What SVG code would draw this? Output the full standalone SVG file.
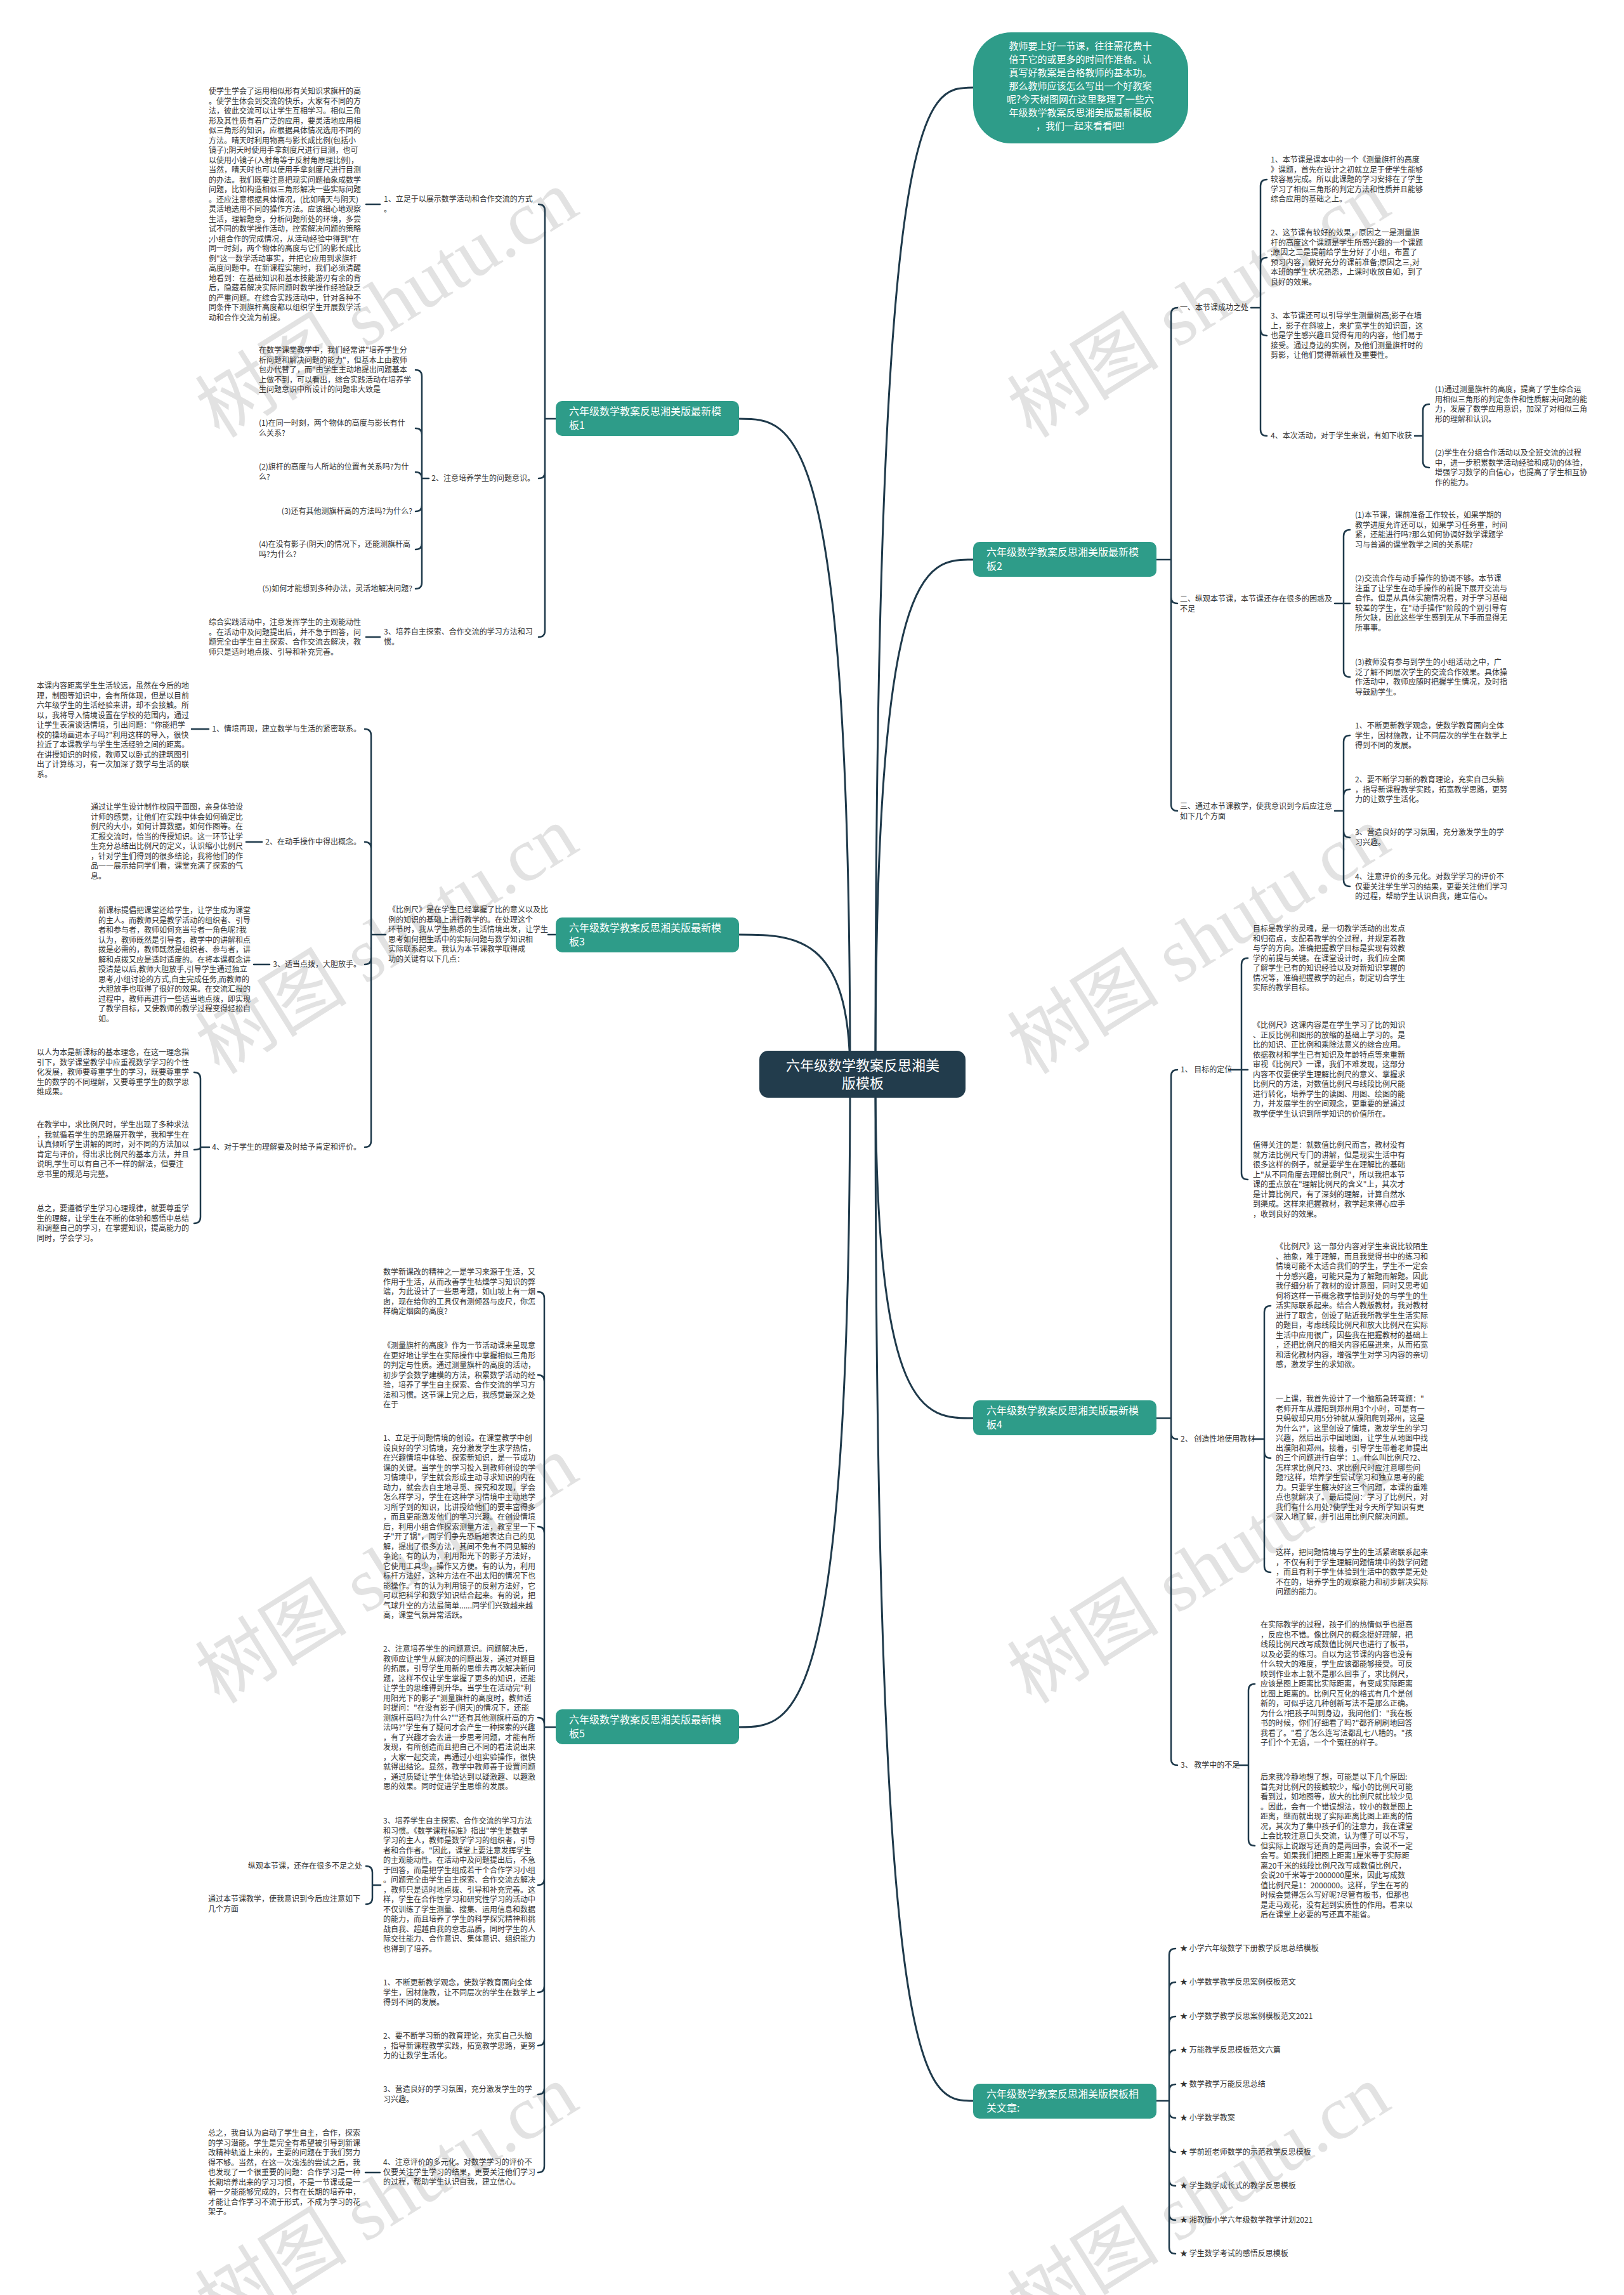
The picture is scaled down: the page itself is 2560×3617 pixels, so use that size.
<svg xmlns="http://www.w3.org/2000/svg" width="2560" height="3617" viewBox="0 0 2560 3617">
<style>
.t{font-family:"Noto Sans CJK SC","Noto Sans",sans-serif;font-size:12px;fill:#333}
.e{text-anchor:end}
.nt{font-family:"Noto Sans CJK SC",sans-serif;font-size:16px;fill:#fff}
.ct{font-family:"Noto Sans CJK SC",sans-serif;font-size:22px;fill:#fff;text-anchor:middle}
.it{font-family:"Noto Sans CJK SC",sans-serif;font-size:15px;fill:#fff;text-anchor:middle}
.ln{fill:none;stroke:#1f3a4b;stroke-width:2.5;stroke-linecap:round}
.rt{fill:none;stroke:#1f3a4b;stroke-width:3}
.bn{fill:#2e9c89}
.wm{font-family:"Liberation Serif","Noto Sans CJK SC",serif;font-size:120px;fill:#e2e2e2}
</style>
<rect width="2560" height="3617" fill="#fff"/>
<g id="watermarks">
<text class="wm" transform="translate(346,692) rotate(-32)">树图 shutu.cn</text>
<text class="wm" transform="translate(1626,692) rotate(-32)">树图 shutu.cn</text>
<text class="wm" transform="translate(346,1695) rotate(-32)">树图 shutu.cn</text>
<text class="wm" transform="translate(1626,1695) rotate(-32)">树图 shutu.cn</text>
<text class="wm" transform="translate(346,2687) rotate(-32)">树图 shutu.cn</text>
<text class="wm" transform="translate(1626,2687) rotate(-32)">树图 shutu.cn</text>
<text class="wm" transform="translate(346,3678) rotate(-32)">树图 shutu.cn</text>
<text class="wm" transform="translate(1626,3678) rotate(-32)">树图 shutu.cn</text>
</g>
<g id="connectors">
<path class="rt" d="M1380,1693 C1380,138 1457,138 1534,138"/>
<path class="rt" d="M1380,1693 C1380,882 1457,882 1534,882"/>
<path class="rt" d="M1380,1693 C1380,2235 1457,2235 1534,2235"/>
<path class="rt" d="M1380,1693 C1380,3311 1457,3311 1534,3311"/>
<path class="rt" d="M1340,1693 C1340,660 1252,660 1165,660"/>
<path class="rt" d="M1340,1693 C1340,1473 1252,1473 1165,1473"/>
<path class="rt" d="M1340,1693 C1340,2722 1252,2722 1165,2722"/>
<path class="ln" d="M876,660 H859 M859,660 V332 Q859,322 849,322 M859,660 V744 Q859,754 849,754 M859,660 V994 Q859,1004 849,1004"/>
<path class="ln" d="M577,322 H599 M577,1004 H599"/>
<path class="ln" d="M676,754 H665 M665,754 V593 Q665,583 655,583 M665,754 V685 Q665,675 655,675 M665,754 Q665,744 655,744 M665,754 V796 Q665,806 655,806 M665,754 V856 Q665,866 655,866 M665,754 V918 Q665,928 655,928"/>
<path class="ln" d="M876,1473 H864 M608,1473 H585 M585,1473 V1159 Q585,1149 575,1149 M585,1473 V1337 Q585,1327 575,1327 M585,1473 V1510 Q585,1520 575,1520 M585,1473 V1798 Q585,1808 575,1808"/>
<path class="ln" d="M302,1149 H329 M388,1327 H413 M400,1520 H425"/>
<path class="ln" d="M330,1808 H316 M316,1808 V1700 Q316,1690 306,1690 M316,1808 Q316,1812 306,1812 M316,1808 V1918 Q316,1928 306,1928"/>
<path class="ln" d="M876,2722 H858 M858,2722 V2046 Q858,2036 848,2036 M858,2722 V2177 Q858,2167 848,2167 M858,2722 V2416 Q858,2406 848,2406 M858,2722 V2717 Q858,2707 848,2707 M858,2722 V2961 Q858,2971 848,2971 M858,2722 V3130 Q858,3140 848,3140 M858,2722 V3214 Q858,3224 848,3224 M858,2722 V3291 Q858,3301 848,3301 M858,2722 V3414 Q858,3424 848,3424"/>
<path class="ln" d="M600,2971 H587 M587,2971 V2951 Q587,2941 577,2941 M587,2971 V2991 Q587,3001 577,3001 M576,3424 H599"/>
<path class="ln" d="M1822,882 H1846 M1846,882 V495 Q1846,485 1856,485 M1846,882 V941 Q1846,951 1856,951 M1846,882 V1268 Q1846,1278 1856,1278"/>
<path class="ln" d="M1972,485 H1987 M1987,485 V293 Q1987,283 1997,283 M1987,485 V416 Q1987,406 1997,406 M1987,485 V519 Q1987,529 1997,529 M1987,485 V677 Q1987,687 1997,687"/>
<path class="ln" d="M2230,687 H2243 M2243,687 V647 Q2243,637 2253,637 M2243,687 V727 Q2243,737 2253,737"/>
<path class="ln" d="M2104,951 H2118 M2118,951 V845 Q2118,835 2128,835 M2118,951 H2128 M2118,951 V1057 Q2118,1067 2128,1067"/>
<path class="ln" d="M2104,1278 H2118 M2118,1278 V1169 Q2118,1159 2128,1159 M2118,1278 V1254 Q2118,1244 2128,1244 M2118,1278 V1310 Q2118,1320 2128,1320 M2118,1278 V1387 Q2118,1397 2128,1397"/>
<path class="ln" d="M1822,2235 H1846 M1846,2235 V1696 Q1846,1686 1856,1686 M1846,2235 V2258 Q1846,2268 1856,2268 M1846,2235 V2772 Q1846,2782 1856,2782"/>
<path class="ln" d="M1937,1686 H1957 M1957,1686 V1520 Q1957,1510 1967,1510 M1957,1686 H1967 M1957,1686 V1849 Q1957,1859 1967,1859"/>
<path class="ln" d="M1975,2268 H1993 M1993,2268 V2068 Q1993,2058 2003,2058 M1993,2268 V2288 Q1993,2298 2003,2298 M1993,2268 V2468 Q1993,2478 2003,2478"/>
<path class="ln" d="M1948,2782 H1968 M1968,2782 V2664 Q1968,2654 1978,2654 M1968,2782 V2899 Q1968,2909 1978,2909"/>
<path class="ln" d="M1822,3311 H1843 M1843,3311 V3081 Q1843,3071 1853,3071 M1843,3311 V3134 Q1843,3124 1853,3124 M1843,3311 V3188 Q1843,3178 1853,3178 M1843,3311 V3241 Q1843,3231 1853,3231 M1843,3311 V3295 Q1843,3285 1853,3285 M1843,3311 V3328 Q1843,3338 1853,3338 M1843,3311 V3382 Q1843,3392 1853,3392 M1843,3311 V3435 Q1843,3445 1853,3445 M1843,3311 V3489 Q1843,3499 1853,3499 M1843,3311 V3542 Q1843,3552 1853,3552"/>
</g>
<g id="center">
<rect x="1197" y="1656" width="325" height="74" rx="14" fill="#223c4c"/>
<text class="ct" y="1687"><tspan x="1360">六年级数学教案反思湘美</tspan><tspan x="1360" dy="28">版模板</tspan></text>
</g>
<g id="intro">
<rect x="1534" y="51" width="339" height="175" rx="60" class="bn"/>
<text class="it" y="78"><tspan x="1703">教师要上好一节课，往往需花费十</tspan><tspan x="1703" dy="21">倍于它的或更多的时间作准备。认</tspan><tspan x="1703" dy="21">真写好教案是合格教师的基本功。</tspan><tspan x="1703" dy="21">那么教师应该怎么写出一个好教案</tspan><tspan x="1703" dy="21">呢?今天树图网在这里整理了一些六</tspan><tspan x="1703" dy="21">年级数学教案反思湘美版最新模板</tspan><tspan x="1703" dy="21">，我们一起来看看吧!</tspan></text>
</g>
<g id="node-b1">
<rect x="876" y="632" width="289" height="55" rx="10" class="bn"/>
<text class="nt" y="654"><tspan x="897">六年级数学教案反思湘美版最新模</tspan><tspan x="897" dy="22">板1</tspan></text>
</g>
<g id="node-b3">
<rect x="876" y="1446" width="289" height="55" rx="10" class="bn"/>
<text class="nt" y="1468"><tspan x="897">六年级数学教案反思湘美版最新模</tspan><tspan x="897" dy="22">板3</tspan></text>
</g>
<g id="node-b5">
<rect x="876" y="2694" width="289" height="55" rx="10" class="bn"/>
<text class="nt" y="2716"><tspan x="897">六年级数学教案反思湘美版最新模</tspan><tspan x="897" dy="22">板5</tspan></text>
</g>
<g id="node-b2">
<rect x="1534" y="854" width="289" height="55" rx="10" class="bn"/>
<text class="nt" y="876"><tspan x="1555">六年级数学教案反思湘美版最新模</tspan><tspan x="1555" dy="22">板2</tspan></text>
</g>
<g id="node-b4">
<rect x="1534" y="2207" width="289" height="55" rx="10" class="bn"/>
<text class="nt" y="2229"><tspan x="1555">六年级数学教案反思湘美版最新模</tspan><tspan x="1555" dy="22">板4</tspan></text>
</g>
<g id="node-b6">
<rect x="1534" y="3284" width="289" height="55" rx="10" class="bn"/>
<text class="nt" y="3306"><tspan x="1555">六年级数学教案反思湘美版模板相</tspan><tspan x="1555" dy="22">关文章:</tspan></text>
</g>
<g id="b1-texts">
<text class="t" y="148"><tspan x="329">使学生学会了运用相似形有关知识求旗杆的高</tspan><tspan x="329" dy="15.5">。使学生体会到交流的快乐，大家有不同的方</tspan><tspan x="329" dy="15.5">法，彼此交流可以让学生互相学习。相似三角</tspan><tspan x="329" dy="15.5">形及其性质有着广泛的应用，要灵活地应用相</tspan><tspan x="329" dy="15.5">似三角形的知识，应根据具体情况选用不同的</tspan><tspan x="329" dy="15.5">方法。晴天时利用物高与影长成比例(包括小</tspan><tspan x="329" dy="15.5">镜子);阴天时使用手拿刻度尺进行目测，也可</tspan><tspan x="329" dy="15.5">以使用小镜子(入射角等于反射角原理比例)，</tspan><tspan x="329" dy="15.5">当然，晴天时也可以使用手拿刻度尺进行目测</tspan><tspan x="329" dy="15.5">的办法。我们既要注意把现实问题抽象成数学</tspan><tspan x="329" dy="15.5">问题，比如构造相似三角形解决一些实际问题</tspan><tspan x="329" dy="15.5">。还应注意根据具体情况，(比如晴天与阴天)</tspan><tspan x="329" dy="15.5">灵活地选用不同的操作方法。应该细心地观察</tspan><tspan x="329" dy="15.5">生活，理解题意，分析问题所处的环境，多尝</tspan><tspan x="329" dy="15.5">试不同的数学操作活动，控索解决问题的策略</tspan><tspan x="329" dy="15.5">;小组合作的完成情况，从活动经验中得到"在</tspan><tspan x="329" dy="15.5">同一时刻，两个物体的高度与它们的影长成比</tspan><tspan x="329" dy="15.5">例"这一数学活动事实，并把它应用到求旗杆</tspan><tspan x="329" dy="15.5">高度问题中。在新课程实施时，我们必须清醒</tspan><tspan x="329" dy="15.5">地看到：在基础知识和基本技能游刃有余的背</tspan><tspan x="329" dy="15.5">后，隐藏着解决实际问题时数学操作经验缺乏</tspan><tspan x="329" dy="15.5">的严重问题。在综合实践活动中，针对各种不</tspan><tspan x="329" dy="15.5">同条件下测旗杆高度都以组织学生开展数学活</tspan><tspan x="329" dy="15.5">动和合作交流为前提。</tspan></text>
<text class="t" y="318"><tspan x="605">1、立足于以展示数学活动和合作交流的方式</tspan><tspan x="605" dy="15.5">。</tspan></text>
<text class="t e" x="843" y="758">2、注意培养学生的问题意识。</text>
<text class="t" y="556"><tspan x="408">在数学课堂教学中，我们经常讲"培养学生分</tspan><tspan x="408" dy="15.5">析问题和解决问题的能力"，但基本上由教师</tspan><tspan x="408" dy="15.5">包办代替了，而"由学生主动地提出问题基本</tspan><tspan x="408" dy="15.5">上做不到，可以看出，综合实践活动在培养学</tspan><tspan x="408" dy="15.5">生问题意识中所设计的问题串大致是</tspan></text>
<text class="t" y="671"><tspan x="408">(1)在同一时刻，两个物体的高度与影长有什</tspan><tspan x="408" dy="15.5">么关系?</tspan></text>
<text class="t" y="740"><tspan x="408">(2)旗杆的高度与人所站的位置有关系吗?为什</tspan><tspan x="408" dy="15.5">么?</tspan></text>
<text class="t e" x="650" y="810">(3)还有其他测旗杆高的方法吗?为什么?</text>
<text class="t" y="862"><tspan x="408">(4)在没有影子(阴天)的情况下，还能测旗杆高</tspan><tspan x="408" dy="15.5">吗?为什么?</tspan></text>
<text class="t e" x="650" y="932">(5)如何才能想到多种办法，灵活地解决问题?</text>
<text class="t" y="1000"><tspan x="605">3、培养自主探索、合作交流的学习方法和习</tspan><tspan x="605" dy="15.5">惯。</tspan></text>
<text class="t" y="985"><tspan x="329">综合实践活动中，注意发挥学生的主观能动性</tspan><tspan x="329" dy="15.5">。在活动中及问题提出后，并不急于回答，问</tspan><tspan x="329" dy="15.5">题完全由学生自主探索、合作交流去解决，教</tspan><tspan x="329" dy="15.5">师只是适时地点拨、引导和补充完善。</tspan></text>
</g>
<g id="b3-texts">
<text class="t" y="1438"><tspan x="612">《比例尺》是在学生已经掌握了比的意义以及比</tspan><tspan x="612" dy="15.5">例的知识的基础上进行教学的。在处理这个</tspan><tspan x="612" dy="15.5">环节时，我从学生熟悉的生活情境出发，让学生</tspan><tspan x="612" dy="15.5">思考如何把生活中的实际问题与数学知识相</tspan><tspan x="612" dy="15.5">实际联系起来。我认为本节课教学取得成</tspan><tspan x="612" dy="15.5">功的关键有以下几点：</tspan></text>
<text class="t e" x="569" y="1153">1、情境再现，建立数学与生活的紧密联系。</text>
<text class="t e" x="569" y="1331">2、在动手操作中得出概念。</text>
<text class="t e" x="569" y="1524">3、适当点拨，大胆放手。</text>
<text class="t e" x="569" y="1812">4、对于学生的理解要及时给予肯定和评价。</text>
<text class="t" y="1085"><tspan x="58">本课内容距离学生生活较远，虽然在今后的地</tspan><tspan x="58" dy="15.5">理，制图等知识中，会有所体现，但是以目前</tspan><tspan x="58" dy="15.5">六年级学生的生活经验来讲，却不会接触。所</tspan><tspan x="58" dy="15.5">以，我将导入情境设置在学校的范围内，通过</tspan><tspan x="58" dy="15.5">让学生表演谈话情境，引出问题："你能把学</tspan><tspan x="58" dy="15.5">校的操场画进本子吗?"利用这样的导入，很快</tspan><tspan x="58" dy="15.5">拉近了本课教学与学生生活经验之间的距离。</tspan><tspan x="58" dy="15.5">在讲授知识的时候，教师又以卧式的建筑图引</tspan><tspan x="58" dy="15.5">出了计算练习，有一次加深了数学与生活的联</tspan><tspan x="58" dy="15.5">系。</tspan></text>
<text class="t" y="1276"><tspan x="143">通过让学生设计制作校园平面图，亲身体验设</tspan><tspan x="143" dy="15.5">计师的感觉，让他们在实践中体会如何确定比</tspan><tspan x="143" dy="15.5">例尺的大小，如何计算数据，如何作图等。在</tspan><tspan x="143" dy="15.5">汇报交流时，恰当的传授知识。这一环节让学</tspan><tspan x="143" dy="15.5">生充分总结出比例尺的定义，认识缩小比例尺</tspan><tspan x="143" dy="15.5">，针对学生们得到的很多结论，我将他们的作</tspan><tspan x="143" dy="15.5">品一一展示给同学们看，课堂充满了探索的气</tspan><tspan x="143" dy="15.5">息。</tspan></text>
<text class="t" y="1439"><tspan x="155">新课标提倡把课堂还给学生，让学生成为课堂</tspan><tspan x="155" dy="15.5">的主人。而教师只是教学活动的组织者、引导</tspan><tspan x="155" dy="15.5">者和参与者，教师如何充当号者一角色呢?我</tspan><tspan x="155" dy="15.5">认为，教师既然是引导者，教学中的讲解和点</tspan><tspan x="155" dy="15.5">拨是必需的，教师既然是组织者、参与者，讲</tspan><tspan x="155" dy="15.5">解和点拨又应是适时适度的。在将本课概念讲</tspan><tspan x="155" dy="15.5">授清楚以后,教师大胆放手,引导学生通过独立</tspan><tspan x="155" dy="15.5">思考,小组讨论的方式,自主完成任务,而教师的</tspan><tspan x="155" dy="15.5">大胆放手也取得了很好的效果。在交流汇报的</tspan><tspan x="155" dy="15.5">过程中，教师再进行一些适当地点拨，即实现</tspan><tspan x="155" dy="15.5">了教学目标，又使教师的教学过程变得轻松自</tspan><tspan x="155" dy="15.5">如。</tspan></text>
<text class="t" y="1663"><tspan x="58">以人为本是新课标的基本理念，在这一理念指</tspan><tspan x="58" dy="15.5">引下，数学课堂教学中应重视数学学习的个性</tspan><tspan x="58" dy="15.5">化发展，教师要尊重学生的学习，既要尊重学</tspan><tspan x="58" dy="15.5">生的数学的不同理解，又要尊重学生的数学思</tspan><tspan x="58" dy="15.5">维成果。</tspan></text>
<text class="t" y="1777"><tspan x="58">在教学中，求比例尺时，学生出现了多种求法</tspan><tspan x="58" dy="15.5">，我就循着学生的思路展开教学，我和学生在</tspan><tspan x="58" dy="15.5">认真倾听学生讲解的同时，对不同的方法加以</tspan><tspan x="58" dy="15.5">肯定与评价，得出求比例尺的基本方法，并且</tspan><tspan x="58" dy="15.5">说明,学生可以有自己不一样的解法，但要注</tspan><tspan x="58" dy="15.5">意书里的规范与完整。</tspan></text>
<text class="t" y="1909"><tspan x="58">总之，要遵循学生学习心理规律，就要尊重学</tspan><tspan x="58" dy="15.5">生的理解，让学生在不断的体验和感悟中总结</tspan><tspan x="58" dy="15.5">和调整自己的学习，在掌握知识，提高能力的</tspan><tspan x="58" dy="15.5">同时，学会学习。</tspan></text>
</g>
<g id="b5-texts">
<text class="t" y="2009"><tspan x="604">数学新课改的精神之一是学习来源于生活，又</tspan><tspan x="604" dy="15.5">作用于生活，从而改善学生枯燥学习知识的弊</tspan><tspan x="604" dy="15.5">端，为此设计了一些思考题，如山坡上有一烟</tspan><tspan x="604" dy="15.5">囱，现在给你的工具仅有测倾器与皮尺，你怎</tspan><tspan x="604" dy="15.5">样确定烟囱的高度?</tspan></text>
<text class="t" y="2125"><tspan x="604">《测量旗杆的高度》作为一节活动课来呈现意</tspan><tspan x="604" dy="15.5">在更好地让学生在实际操作中掌握相似三角形</tspan><tspan x="604" dy="15.5">的判定与性质。通过测量旗杆的高度的活动，</tspan><tspan x="604" dy="15.5">初步学会数学建模的方法，积累数学活动的经</tspan><tspan x="604" dy="15.5">验，培养了学生自主探索、合作交流的学习方</tspan><tspan x="604" dy="15.5">法和习惯。这节课上完之后，我感觉最深之处</tspan><tspan x="604" dy="15.5">在于</tspan></text>
<text class="t" y="2271"><tspan x="604">1、立足于问题情境的创设。在课堂教学中创</tspan><tspan x="604" dy="15.5">设良好的学习情境，充分激发学生求学热情，</tspan><tspan x="604" dy="15.5">在兴趣情境中体验、探索新知识，是一节成功</tspan><tspan x="604" dy="15.5">课的关键。当学生的学习投入到教师创设的学</tspan><tspan x="604" dy="15.5">习情境中，学生就会形成主动寻求知识的内在</tspan><tspan x="604" dy="15.5">动力，就会去自主地寻觅、探究和发现，学会</tspan><tspan x="604" dy="15.5">怎么样学习，学生在这种学习情境中主动地学</tspan><tspan x="604" dy="15.5">习所学到的知识，比讲授给他们的要丰富得多</tspan><tspan x="604" dy="15.5">，而且更能激发他们的学习兴趣。在创设情境</tspan><tspan x="604" dy="15.5">后，利用小组合作探索测量方法，教室里一下</tspan><tspan x="604" dy="15.5">子"开了锅"，同学们争先恐后地表达自己的见</tspan><tspan x="604" dy="15.5">解，提出了很多方法，其间不免有不同见解的</tspan><tspan x="604" dy="15.5">争论：有的认为，利用阳光下的影子方法好，</tspan><tspan x="604" dy="15.5">它使用工具少，操作又方便。有的认为，利用</tspan><tspan x="604" dy="15.5">标杆方法好，这种方法在不出太阳的情况下也</tspan><tspan x="604" dy="15.5">能操作。有的认为利用镜子的反射方法好，它</tspan><tspan x="604" dy="15.5">可以把科学和数学知识结合起来。有的说，把</tspan><tspan x="604" dy="15.5">气球升空的方法最简单......同学们兴致越来越</tspan><tspan x="604" dy="15.5">高，课堂气氛异常活跃。</tspan></text>
<text class="t" y="2603"><tspan x="604">2、注意培养学生的问题意识。问题解决后，</tspan><tspan x="604" dy="15.5">教师应让学生从解决的问题出发，通过对题目</tspan><tspan x="604" dy="15.5">的拓展，引导学生用新的思维去再次解决新问</tspan><tspan x="604" dy="15.5">题，这样不仅让学生掌握了更多的知识，还能</tspan><tspan x="604" dy="15.5">让学生的思维得到升华。当学生在活动完"利</tspan><tspan x="604" dy="15.5">用阳光下的影子"测量旗杆的高度时，教师适</tspan><tspan x="604" dy="15.5">时提问："在没有影子(阴天)的情况下，还能</tspan><tspan x="604" dy="15.5">测旗杆高吗?为什么?""还有其他测旗杆高的方</tspan><tspan x="604" dy="15.5">法吗?"学生有了疑问才会产生一种探索的兴趣</tspan><tspan x="604" dy="15.5">，有了兴趣才会去进一步思考问题，才能有所</tspan><tspan x="604" dy="15.5">发现，有所创造而且把自己不同的看法说出来</tspan><tspan x="604" dy="15.5">，大家一起交流，再通过小组实验操作，很快</tspan><tspan x="604" dy="15.5">就得出结论。显然，教学中教师善于设置问题</tspan><tspan x="604" dy="15.5">，通过质疑让学生体验达到以疑激趣、以趣激</tspan><tspan x="604" dy="15.5">思的效果。同时促进学生思维的发展。</tspan></text>
<text class="t" y="2874"><tspan x="604">3、培养学生自主探索、合作交流的学习方法</tspan><tspan x="604" dy="15.5">和习惯。《数学课程标准》指出"学生是数学</tspan><tspan x="604" dy="15.5">学习的主人，教师是数学学习的组织者，引导</tspan><tspan x="604" dy="15.5">者和合作者。"因此，课堂上要注意发挥学生</tspan><tspan x="604" dy="15.5">的主观能动性。在活动中及问题提出后，不急</tspan><tspan x="604" dy="15.5">于回答，而是把学生组成若干个合作学习小组</tspan><tspan x="604" dy="15.5">。问题完全由学生自主探索、合作交流去解决</tspan><tspan x="604" dy="15.5">，教师只是适时地点拨、引导和补充完善。这</tspan><tspan x="604" dy="15.5">样，学生在合作性学习和研究性学习的活动中</tspan><tspan x="604" dy="15.5">不仅训练了学生测量、搜集、运用信息和数据</tspan><tspan x="604" dy="15.5">的能力，而且培养了学生的科学探究精神和挑</tspan><tspan x="604" dy="15.5">战自我、超越自我的意志品质，同时学生的人</tspan><tspan x="604" dy="15.5">际交往能力、合作意识、集体意识、组织能力</tspan><tspan x="604" dy="15.5">也得到了培养。</tspan></text>
<text class="t e" x="571" y="2945">纵观本节课，还存在很多不足之处</text>
<text class="t" y="2997"><tspan x="328">通过本节课教学，使我意识到今后应注意如下</tspan><tspan x="328" dy="15.5">几个方面</tspan></text>
<text class="t" y="3129"><tspan x="604">1、不断更新教学观念，使数学教育面向全体</tspan><tspan x="604" dy="15.5">学生，因材施教，让不同层次的学生在数学上</tspan><tspan x="604" dy="15.5">得到不同的发展。</tspan></text>
<text class="t" y="3213"><tspan x="604">2、要不断学习新的教育理论，充实自己头脑</tspan><tspan x="604" dy="15.5">，指导新课程教学实践，拓宽教学思路，更努</tspan><tspan x="604" dy="15.5">力的让数学生活化。</tspan></text>
<text class="t" y="3297"><tspan x="604">3、营造良好的学习氛围，充分激发学生的学</tspan><tspan x="604" dy="15.5">习兴趣。</tspan></text>
<text class="t" y="3412"><tspan x="604">4、注意评价的多元化。对数学学习的评价不</tspan><tspan x="604" dy="15.5">仅要关注学生学习的结果，更要关注他们学习</tspan><tspan x="604" dy="15.5">的过程，帮助学生认识自我，建立信心。</tspan></text>
<text class="t" y="3366"><tspan x="328">总之，我自认为启动了学生自主，合作，探索</tspan><tspan x="328" dy="15.5">的学习潜能。学生是完全有希望被引导到新课</tspan><tspan x="328" dy="15.5">改精神轨道上来的，主要的问题在于我们努力</tspan><tspan x="328" dy="15.5">得不够。当然，在这一次浅浅的尝试之后，我</tspan><tspan x="328" dy="15.5">也发现了一个很重要的问题：合作学习是一种</tspan><tspan x="328" dy="15.5">长期培养出来的学习习惯，不是一节课或是一</tspan><tspan x="328" dy="15.5">朝一夕能能够完成的，只有在长期的培养中，</tspan><tspan x="328" dy="15.5">才能让合作学习不流于形式，不成为学习的花</tspan><tspan x="328" dy="15.5">架子。</tspan></text>
</g>
<g id="b2-texts">
<text class="t" x="1860" y="489">一、本节课成功之处</text>
<text class="t" y="948"><tspan x="1860">二、纵观本节课，本节课还存在很多的困惑及</tspan><tspan x="1860" dy="15.5">不足</tspan></text>
<text class="t" y="1275"><tspan x="1860">三、通过本节课教学，使我意识到今后应注意</tspan><tspan x="1860" dy="15.5">如下几个方面</tspan></text>
<text class="t" y="256"><tspan x="2003">1、本节课是课本中的一个《测量旗杆的高度</tspan><tspan x="2003" dy="15.5">》课题，首先在设计之初就立足于使学生能够</tspan><tspan x="2003" dy="15.5">较容易完成。所以此课题的学习安排在了学生</tspan><tspan x="2003" dy="15.5">学习了相似三角形的判定方法和性质并且能够</tspan><tspan x="2003" dy="15.5">综合应用的基础之上。</tspan></text>
<text class="t" y="371"><tspan x="2003">2、这节课有较好的效果，原因之一是测量旗</tspan><tspan x="2003" dy="15.5">杆的高度这个课题是学生所感兴趣的一个课题</tspan><tspan x="2003" dy="15.5">;原因之二是提前给学生分好了小组，布置了</tspan><tspan x="2003" dy="15.5">预习内容，做好充分的课前准备;原因之三,对</tspan><tspan x="2003" dy="15.5">本班的学生状况熟悉，上课时收放自如，到了</tspan><tspan x="2003" dy="15.5">良好的效果。</tspan></text>
<text class="t" y="502"><tspan x="2003">3、本节课还可以引导学生测量树高;影子在墙</tspan><tspan x="2003" dy="15.5">上，影子在斜坡上，来扩宽学生的知识面，这</tspan><tspan x="2003" dy="15.5">也是学生感兴趣且觉得有用的内容，他们易于</tspan><tspan x="2003" dy="15.5">接受。通过身边的实例，及他们测量旗杆时的</tspan><tspan x="2003" dy="15.5">剪影，让他们觉得新颖性及重要性。</tspan></text>
<text class="t" x="2003" y="691">4、本次活动，对于学生来说，有如下收获</text>
<text class="t" y="618"><tspan x="2262">(1)通过测量旗杆的高度，提高了学生综合运</tspan><tspan x="2262" dy="15.5">用相似三角形的判定条件和性质解决问题的能</tspan><tspan x="2262" dy="15.5">力，发展了数学应用意识，加深了对相似三角</tspan><tspan x="2262" dy="15.5">形的理解和认识。</tspan></text>
<text class="t" y="718"><tspan x="2262">(2)学生在分组合作活动以及全班交流的过程</tspan><tspan x="2262" dy="15.5">中，进一步积累数学活动经验和成功的体验，</tspan><tspan x="2262" dy="15.5">增强学习数学的自信心，也提高了学生相互协</tspan><tspan x="2262" dy="15.5">作的能力。</tspan></text>
<text class="t" y="816"><tspan x="2136">(1)本节课，课前准备工作较长，如果学期的</tspan><tspan x="2136" dy="15.5">教学进度允许还可以，如果学习任务重，时间</tspan><tspan x="2136" dy="15.5">紧，还能进行吗?那么如何协调好数学课题学</tspan><tspan x="2136" dy="15.5">习与普通的课堂教学之间的关系呢?</tspan></text>
<text class="t" y="916"><tspan x="2136">(2)交流合作与动手操作的协调不够。本节课</tspan><tspan x="2136" dy="15.5">注重了让学生在动手操作的前提下展开交流与</tspan><tspan x="2136" dy="15.5">合作。但是从具体实施情况看，对于学习基础</tspan><tspan x="2136" dy="15.5">较差的学生，在"动手操作"阶段的个别引导有</tspan><tspan x="2136" dy="15.5">所欠缺，因此这些学生感到无从下手而显得无</tspan><tspan x="2136" dy="15.5">所事事。</tspan></text>
<text class="t" y="1048"><tspan x="2136">(3)教师没有参与到学生的小组活动之中，广</tspan><tspan x="2136" dy="15.5">泛了解不同层次学生的交流合作效果。具体操</tspan><tspan x="2136" dy="15.5">作活动中，教师应随时把握学生情况，及时指</tspan><tspan x="2136" dy="15.5">导鼓励学生。</tspan></text>
<text class="t" y="1148"><tspan x="2136">1、不断更新教学观念，使数学教育面向全体</tspan><tspan x="2136" dy="15.5">学生，因材施教，让不同层次的学生在数学上</tspan><tspan x="2136" dy="15.5">得到不同的发展。</tspan></text>
<text class="t" y="1233"><tspan x="2136">2、要不断学习新的教育理论，充实自己头脑</tspan><tspan x="2136" dy="15.5">，指导新课程教学实践，拓宽教学思路，更努</tspan><tspan x="2136" dy="15.5">力的让数学生活化。</tspan></text>
<text class="t" y="1316"><tspan x="2136">3、营造良好的学习氛围，充分激发学生的学</tspan><tspan x="2136" dy="15.5">习兴趣。</tspan></text>
<text class="t" y="1386"><tspan x="2136">4、注意评价的多元化。对数学学习的评价不</tspan><tspan x="2136" dy="15.5">仅要关注学生学习的结果，更要关注他们学习</tspan><tspan x="2136" dy="15.5">的过程，帮助学生认识自我，建立信心。</tspan></text>
</g>
<g id="b4-texts">
<text class="t" x="1861" y="1690">1、 目标的定位</text>
<text class="t" x="1861" y="2272">2、 创造性地使用教材</text>
<text class="t" x="1861" y="2786">3、 教学中的不足</text>
<text class="t" y="1468"><tspan x="1975">目标是教学的灵魂，是一切教学活动的出发点</tspan><tspan x="1975" dy="15.5">和归宿点，支配着教学的全过程，并规定着教</tspan><tspan x="1975" dy="15.5">与学的方向。准确把握教学目标是实现有效教</tspan><tspan x="1975" dy="15.5">学的前提与关键。在课堂设计时，我们应全面</tspan><tspan x="1975" dy="15.5">了解学生已有的知识经验以及对新知识掌握的</tspan><tspan x="1975" dy="15.5">情况等，准确把握教学的起点，制定切合学生</tspan><tspan x="1975" dy="15.5">实际的教学目标。</tspan></text>
<text class="t" y="1620"><tspan x="1975">《比例尺》这课内容是在学生学习了比的知识</tspan><tspan x="1975" dy="15.5">、正反比例和图形的放缩的基础上学习的。是</tspan><tspan x="1975" dy="15.5">比的知识、正比例和乘除法意义的综合应用。</tspan><tspan x="1975" dy="15.5">依据教材和学生已有知识及年龄特点等来重新</tspan><tspan x="1975" dy="15.5">审视《比例尺》一课，我们不难发现，这部分</tspan><tspan x="1975" dy="15.5">内容不仅要使学生理解比例尺的意义、掌握求</tspan><tspan x="1975" dy="15.5">比例尺的方法，对数值比例尺与线段比例尺能</tspan><tspan x="1975" dy="15.5">进行转化，培养学生的读图、用图、绘图的能</tspan><tspan x="1975" dy="15.5">力，并发展学生的空间观念，更重要的是通过</tspan><tspan x="1975" dy="15.5">教学使学生认识到所学知识的价值所在。</tspan></text>
<text class="t" y="1809"><tspan x="1975">值得关注的是：就数值比例尺而言，教材没有</tspan><tspan x="1975" dy="15.5">就方法比例尺专门的讲解，但是现实生活中有</tspan><tspan x="1975" dy="15.5">很多这样的例子，就是要学生在理解比的基础</tspan><tspan x="1975" dy="15.5">上"从不同角度去理解比例尺"，所以我把本节</tspan><tspan x="1975" dy="15.5">课的重点放在"理解比例尺的含义"上，其次才</tspan><tspan x="1975" dy="15.5">是计算比例尺，有了深刻的理解，计算自然水</tspan><tspan x="1975" dy="15.5">到渠成。这样来把握教材，教学起来得心应手</tspan><tspan x="1975" dy="15.5">，收到良好的效果。</tspan></text>
<text class="t" y="1969"><tspan x="2011">《比例尺》这一部分内容对学生来说比较陌生</tspan><tspan x="2011" dy="15.5">、抽象，难于理解，而且我觉得书中的练习和</tspan><tspan x="2011" dy="15.5">情境可能不太适合我们的学生，学生不一定会</tspan><tspan x="2011" dy="15.5">十分感兴趣，可能只是为了解题而解题。因此</tspan><tspan x="2011" dy="15.5">我仔细分析了教材的设计意图，同时又思考如</tspan><tspan x="2011" dy="15.5">何将这样一节概念教学恰到好处的与学生的生</tspan><tspan x="2011" dy="15.5">活实际联系起来。结合人教版教材，我对教材</tspan><tspan x="2011" dy="15.5">进行了取舍，创设了贴近我所教学生生活实际</tspan><tspan x="2011" dy="15.5">的题目，考虑线段比例尺和放大比例尺在实际</tspan><tspan x="2011" dy="15.5">生活中应用很广，因些我在把握教材的基础上</tspan><tspan x="2011" dy="15.5">，还把比例尺的相关内容拓展进来，从而拓宽</tspan><tspan x="2011" dy="15.5">和活化教材内容，增强学生对学习内容的亲切</tspan><tspan x="2011" dy="15.5">感，激发学生的求知欲。</tspan></text>
<text class="t" y="2209"><tspan x="2011">一上课，我首先设计了一个脑筋急转弯题："</tspan><tspan x="2011" dy="15.5">老师开车从濮阳到郑州用3个小时，可是有一</tspan><tspan x="2011" dy="15.5">只蚂蚁却只用5分钟就从濮阳爬到郑州，这是</tspan><tspan x="2011" dy="15.5">为什么?"，这里创设了情境，激发学生的学习</tspan><tspan x="2011" dy="15.5">兴趣，然后出示中国地图，让学生从地图中找</tspan><tspan x="2011" dy="15.5">出濮阳和郑州。接着，引导学生带着老师提出</tspan><tspan x="2011" dy="15.5">的三个问题进行自学：1、什么叫比例尺?2、</tspan><tspan x="2011" dy="15.5">怎样求比例尺?3、求比例尺时应注意哪些问</tspan><tspan x="2011" dy="15.5">题?这样，培养学生尝试学习和独立思考的能</tspan><tspan x="2011" dy="15.5">力。只要学生解决好这三个问题，本课的重难</tspan><tspan x="2011" dy="15.5">点也就解决了。最后提问：学习了比例尺，对</tspan><tspan x="2011" dy="15.5">我们有什么用处?使学生对今天所学知识有更</tspan><tspan x="2011" dy="15.5">深入地了解，并引出用比例尺解决问题。</tspan></text>
<text class="t" y="2451"><tspan x="2011">这样，把问题情境与学生的生活紧密联系起来</tspan><tspan x="2011" dy="15.5">，不仅有利于学生理解问题情境中的数学问题</tspan><tspan x="2011" dy="15.5">，而且有利于学生体验到生活中的数学是无处</tspan><tspan x="2011" dy="15.5">不在的，培养学生的观察能力和初步解决实际</tspan><tspan x="2011" dy="15.5">问题的能力。</tspan></text>
<text class="t" y="2565"><tspan x="1987">在实际教学的过程，孩子们的热情似乎也挺高</tspan><tspan x="1987" dy="15.5">，反应也不错。像比例尺的概念挺好理解，把</tspan><tspan x="1987" dy="15.5">线段比例尺改写成数值比例尺也进行了板书，</tspan><tspan x="1987" dy="15.5">以及必要的练习。自以为这节课的内容也没有</tspan><tspan x="1987" dy="15.5">什么较大的难度，学生应该都能够接受。可反</tspan><tspan x="1987" dy="15.5">映到作业本上就不是那么回事了，求比例尺，</tspan><tspan x="1987" dy="15.5">应该是图上距离比实际距离，有变成实际距离</tspan><tspan x="1987" dy="15.5">比图上距离的。比例尺互化的格式有几个是创</tspan><tspan x="1987" dy="15.5">新的，可似乎这几种创新写法不是那么正确。</tspan><tspan x="1987" dy="15.5">为什么?把孩子叫到身边，我问他们："我在板</tspan><tspan x="1987" dy="15.5">书的时候，你们仔细看了吗?"都齐刷刷地回答</tspan><tspan x="1987" dy="15.5">我看了。"看了怎么连写法都乱七八糟的。"孩</tspan><tspan x="1987" dy="15.5">子们个个无语，一个个冤枉的样子。</tspan></text>
<text class="t" y="2805"><tspan x="1987">后来我冷静地想了想，可能是以下几个原因:</tspan><tspan x="1987" dy="15.5">首先对比例尺的接触较少，缩小的比例尺可能</tspan><tspan x="1987" dy="15.5">看到过，如地图等，放大的比例尺就比较少见</tspan><tspan x="1987" dy="15.5">。因此，会有一个错误想法，较小的数是图上</tspan><tspan x="1987" dy="15.5">距离，继而就出现了实际距离比图上距离的情</tspan><tspan x="1987" dy="15.5">况，其次为了集中孩子们的注意力，我在课堂</tspan><tspan x="1987" dy="15.5">上会比较注意口头交流，认为懂了可以不写，</tspan><tspan x="1987" dy="15.5">但实际上说跟写还真的是两回事，会说不一定</tspan><tspan x="1987" dy="15.5">会写。如果我们把图上距离1厘米等于实际距</tspan><tspan x="1987" dy="15.5">离20千米的线段比例尺改写成数值比例尺，</tspan><tspan x="1987" dy="15.5">会说20千米等于2000000厘米，因此写成数</tspan><tspan x="1987" dy="15.5">值比例尺是1：2000000。这样，学生在写的</tspan><tspan x="1987" dy="15.5">时候会觉得怎么写好呢?尽管有板书，但那也</tspan><tspan x="1987" dy="15.5">是走马观花，没有起到实质性的作用。看来以</tspan><tspan x="1987" dy="15.5">后在课堂上必要的写还真不能省。</tspan></text>
</g>
<g id="related-texts">
<text class="t" x="1860" y="3075">★ 小学六年级数学下册教学反思总结模板</text>
<text class="t" x="1860" y="3128">★ 小学数学教学反思案例模板范文</text>
<text class="t" x="1860" y="3182">★ 小学数学教学反思案例模板范文2021</text>
<text class="t" x="1860" y="3235">★ 万能教学反思模板范文六篇</text>
<text class="t" x="1860" y="3289">★ 数学教学万能反思总结</text>
<text class="t" x="1860" y="3342">★ 小学数学教案</text>
<text class="t" x="1860" y="3396">★ 学前班老师数学的示范教学反思模板</text>
<text class="t" x="1860" y="3449">★ 学生数学成长式的教学反思模板</text>
<text class="t" x="1860" y="3503">★ 湘教版小学六年级数学教学计划2021</text>
<text class="t" x="1860" y="3556">★ 学生数学考试的感悟反思模板</text>
</g>
</svg>
